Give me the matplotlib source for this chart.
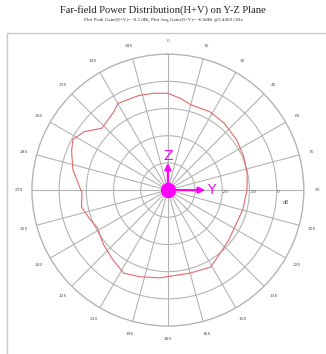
import numpy as np
import matplotlib.pyplot as plt
from matplotlib.patches import Rectangle

angle_deg = [0, 8, 15, 28, 40, 54, 66, 78, 90, 104, 119, 130, 138, 151, 165,
             185, 198, 208, 218, 230, 242, 250, 259, 268, 282, 292, 298, 305,
             313, 325, 330, 343, 352, 360]
gain_db = [-4.4, -6.0, -7.5, -7.3, -7.8, -8.7, -9.5, -10.2, -10.9, -11.5, -11.9,
           -11.0, -10.2, -7.6, -8.4, -7.6, -6.5, -5.4, -7.3, -9.0, -10.6, -9.3,
           -7.6, -8.4, -4.3, -1.8, -0.4, -2.5, -6.7, -5.1, -3.2, -3.6, -4.0, -4.4]

r_ticks = [-30, -20, -10, 0]
theta_ticks = list(range(0, 360, 15))

title = "Far-field Power Distribution(H+V) on Y-Z Plane"
subtitle = "Plot Peak Gain(H+V)= -0.2 dBi, Plot Avg Gain(H+V)= -6.0dBi @2.4400 GHz"

fig = plt.figure(figsize=(3.26, 3.54), dpi=100)
fig.text(0.5, 0.972, title, ha='center', va='center', family='Liberation Serif',
         fontsize=7.6, color='#222222')
fig.text(0.5, 0.943, subtitle, ha='center', va='center', family='Liberation Serif',
         fontsize=3.6, color='#333333')
fig.patches.append(Rectangle((7 / 326, -0.05), 1.0, 1 - 33 / 354 + 0.05,
                             transform=fig.transFigure, fill=False,
                             edgecolor='#c8c8c8', lw=1.0))

ax = fig.add_axes([0.098, 0.079, 0.834, 0.768], projection='polar')
ax.set_theta_zero_location('N')
ax.set_theta_direction(-1)
ax.set_ylim(-40, 10)
ax.set_yticks(r_ticks)
ax.set_yticklabels([str(v) for v in r_ticks], fontsize=3.2, color='#555555',
                   va='top')
ax.set_rlabel_position(90)
ax.set_xticks(np.deg2rad(theta_ticks))
ax.set_xticklabels([str(v) for v in theta_ticks], fontsize=3.2, color='#555555')
ax.tick_params(axis='x', pad=-1)
ax.grid(True, color='#b4b4b4', lw=0.8)
ax.spines['polar'].set_color('#b4b4b4')
ax.spines['polar'].set_linewidth(1.0)

ax.plot(np.deg2rad(angle_deg), gain_db, color='#e06a6a', lw=0.8)
ax.text(np.deg2rad(96), 3.5, "dB", fontsize=3.4, color='#555555',
        ha='center', va='center')

# coordinate axes marker
mag = '#ff00ff'
ax.annotate('', xy=(0.5, 0.60), xytext=(0.5, 0.5), xycoords='axes fraction',
            arrowprops=dict(arrowstyle='-|>', color=mag, lw=1.6,
                            mutation_scale=9, shrinkA=0, shrinkB=0))
ax.annotate('', xy=(0.637, 0.5), xytext=(0.5, 0.5), xycoords='axes fraction',
            arrowprops=dict(arrowstyle='-|>', color=mag, lw=1.6,
                            mutation_scale=9, shrinkA=0, shrinkB=0))
ax.text(0.5, 0.625, "Z", transform=ax.transAxes, color=mag, fontsize=10,
        ha='center', va='center')
ax.text(0.66, 0.5, "Y", transform=ax.transAxes, color=mag, fontsize=10,
        ha='center', va='center')
ax.plot([0], [-40], 'o', color=mag, ms=10, zorder=5)

fig.savefig('out.png', dpi=100)
